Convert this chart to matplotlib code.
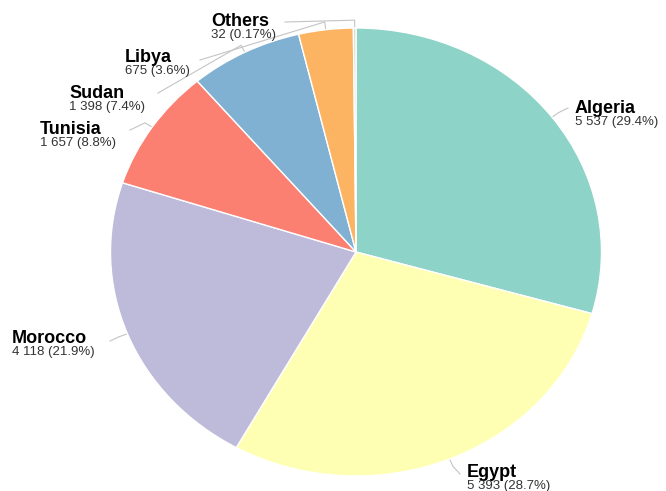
import matplotlib.pyplot as plt
import numpy as np

plt.rcParams['font.family'] = ['Liberation Sans', 'DejaVu Sans']

countries = ['Algeria', 'Egypt', 'Morocco', 'Tunisia', 'Sudan', 'Libya', 'Others']
values = [5537, 5393, 4118, 1657, 1398, 675, 32]
colors = ['#8dd3c7', '#ffffb3', '#bebada', '#fb8072', '#80b1d3', '#fdb462', '#d9d9d9']

# label layout in pixels: text left edge, name baseline, leader attach point
label_x = [575, 467, 12, 40, 69, 125, 211]
label_base = [113, 477, 343, 134, 98, 62, 26]
attach = [(568, 108), (460, 474), (110, 341), (130, 130), (158, 93), (200, 60), (285, 22)]

W, H = 666, 491
cx, cy = 356, 252      # pie centre (px)
rx, ry = 245.5, 224    # pie is slightly wider than tall


def px(x, y):
    return (x - cx) / rx, (cy - y) / ry


fig = plt.figure(figsize=(W / 100, H / 100), dpi=100)
ax = fig.add_axes([0, 0, 1, 1])

wedges, _ = ax.pie(values, colors=colors, startangle=90, counterclock=False,
                   wedgeprops=dict(edgecolor='white', linewidth=1))
ax.set_aspect('auto')
ax.set_xlim(-cx / rx, (W - cx) / rx)
ax.set_ylim(-(H - cy) / ry, cy / ry)
ax.axis('off')

total = sum(values)
for i, w in enumerate(wedges):
    ang = np.deg2rad((w.theta1 + w.theta2) / 2)
    x0, y0 = np.cos(ang), np.sin(ang)
    x1, y1 = 1.035 * x0, 1.035 * y0
    x2, y2 = px(*attach[i])
    ax.plot([x0, x1, x2], [y0, y1, y2], color='#c4c4c4', lw=0.8, zorder=0)

    p = values[i] / total * 100
    pct = f'{p:.1f}' if p >= 1 else f'{p:.2f}'
    val = f'{values[i]:,}'.replace(',', ' ') + f' ({pct}%)'
    tx, ty = px(label_x[i], label_base[i])
    ax.text(tx, ty, countries[i], fontsize=13, fontweight='bold',
            color='#000000', ha='left', va='baseline')
    tx, ty = px(label_x[i], label_base[i] + 12)
    ax.text(tx, ty, val, fontsize=9.5, color='#333333', ha='left', va='baseline')

plt.savefig('out.png', dpi=100)
